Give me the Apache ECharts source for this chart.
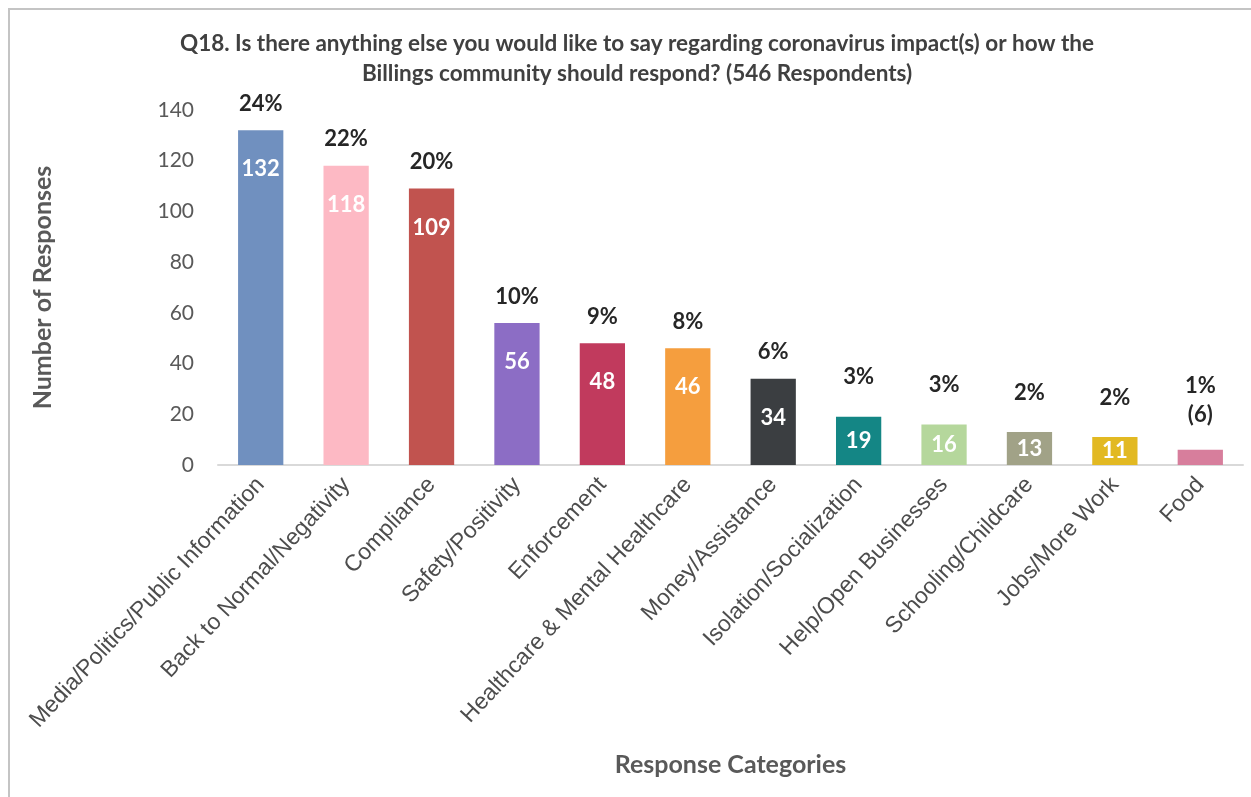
<!DOCTYPE html>
<html>
<head>
<meta charset="utf-8">
<script src="https://cdn.jsdelivr.net/npm/echarts@6/dist/echarts.min.js"></script>
<style>
  html, body { margin: 0; padding: 0; background: #ffffff; }
  #chart { width: 1251px; height: 797px; }
</style>
</head>
<body>
<div id="chart"></div>
<script>
// Q18 open-ended responses, coded into categories
const categories = [
  'Media/Politics/Public Information',
  'Back to Normal/Negativity',
  'Compliance',
  'Safety/Positivity',
  'Enforcement',
  'Healthcare & Mental Healthcare',
  'Money/Assistance',
  'Isolation/Socialization',
  'Help/Open Businesses',
  'Schooling/Childcare',
  'Jobs/More Work',
  'Food'
];
const responses = [132, 118, 109, 56, 48, 46, 34, 19, 16, 13, 11, 6];
const percentLabels = ['24%', '22%', '20%', '10%', '9%', '8%', '6%', '3%', '3%', '2%', '2%', '1%'];
const barColors = [
  '#7090BF', '#FDB9C4', '#C1534F', '#8C6DC5', '#C13A5D', '#F59E3E',
  '#3B3E41', '#148685', '#B5D79C', '#A1A287', '#E2B922', '#D77E9C'
];
const yTicks = [0, 20, 40, 60, 80, 100, 120, 140];

const FONT = 'Lato, "Open Sans", sans-serif';

// Count labels sit inside the bar near its top; very short bars show the count above instead
const countData = responses.map((v, i) => ({
  value: v,
  itemStyle: { color: barColors[i] },
  label: v < 8
    ? { show: false }
    : (v < 20
        ? { position: 'inside' }
        : { position: 'insideTop', distance: 28 })
}));

const percentData = responses.map((v, i) => ({
  value: v,
  label: {
    formatter: v < 8 ? percentLabels[i] + '\n(' + v + ')' : percentLabels[i],
    distance: v < 8 ? 20 : (v < 20 ? 25 : 12)
  }
}));

const chart = echarts.init(document.getElementById('chart'), null, { renderer: 'canvas' });
chart.setOption({
  backgroundColor: '#ffffff',
  animation: false,
  title: {
    text: 'Q18. Is there anything else you would like to say regarding coronavirus impact(s) or how the\nBillings community should respond? (546 Respondents)',
    left: 632,
    top: 24,
    textAlign: 'center',
    textStyle: {
      fontFamily: FONT,
      fontSize: 22.5,
      fontWeight: 'bold',
      color: '#404040',
      lineHeight: 30
    }
  },
  graphic: [{
    type: 'rect',
    shape: { x: 9, y: 9, width: 1300, height: 900 },
    style: { fill: 'none', stroke: '#C4C4C4', lineWidth: 2 },
    silent: true
  }],
  grid: { left: 218, right: 8, top: 110, bottom: 332 },
  xAxis: {
    type: 'category',
    data: categories,
    name: 'Response Categories',
    nameLocation: 'middle',
    nameGap: 287,
    nameTextStyle: {
      fontFamily: FONT, fontSize: 25, fontWeight: 'bold', color: '#595959'
    },
    axisLine: { lineStyle: { color: '#D9D9D9', width: 2 } },
    axisTick: { show: false },
    axisLabel: {
      interval: 0,
      rotate: 47,
      margin: 16,
      fontFamily: '"Liberation Sans", Arial, sans-serif',
      fontSize: 23,
      color: '#4D4D4D'
    }
  },
  yAxis: {
    type: 'value',
    min: 0,
    max: 140,
    interval: 20,
    name: 'Number of Responses',
    nameLocation: 'middle',
    nameGap: 163,
    nameRotate: 90,
    nameTextStyle: { fontFamily: FONT, fontSize: 25, fontWeight: 'bold', color: '#595959' },
    axisLine: { show: false },
    axisTick: { show: false },
    splitLine: { show: false },
    axisLabel: {
      margin: 24,
      fontFamily: FONT,
      fontSize: 21,
      color: '#595959',
      formatter: v => (yTicks.indexOf(v) >= 0 ? String(v) : '')
    }
  },
  series: [
    {
      name: 'Responses',
      type: 'bar',
      barWidth: '53%',
      data: countData,
      label: {
        show: true,
        fontFamily: FONT,
        fontSize: 22,
        fontWeight: 'bold',
        color: '#ffffff'
      },
      z: 2
    },
    {
      name: 'Share',
      type: 'bar',
      barWidth: '53%',
      barGap: '-100%',
      data: percentData,
      itemStyle: { color: 'rgba(0,0,0,0)' },
      silent: true,
      label: {
        show: true,
        position: 'top',
        fontFamily: FONT,
        fontSize: 22,
        fontWeight: 'bold',
        color: '#262626',
        lineHeight: 29
      },
      z: 3
    }
  ]
});
</script>
</body>
</html>
